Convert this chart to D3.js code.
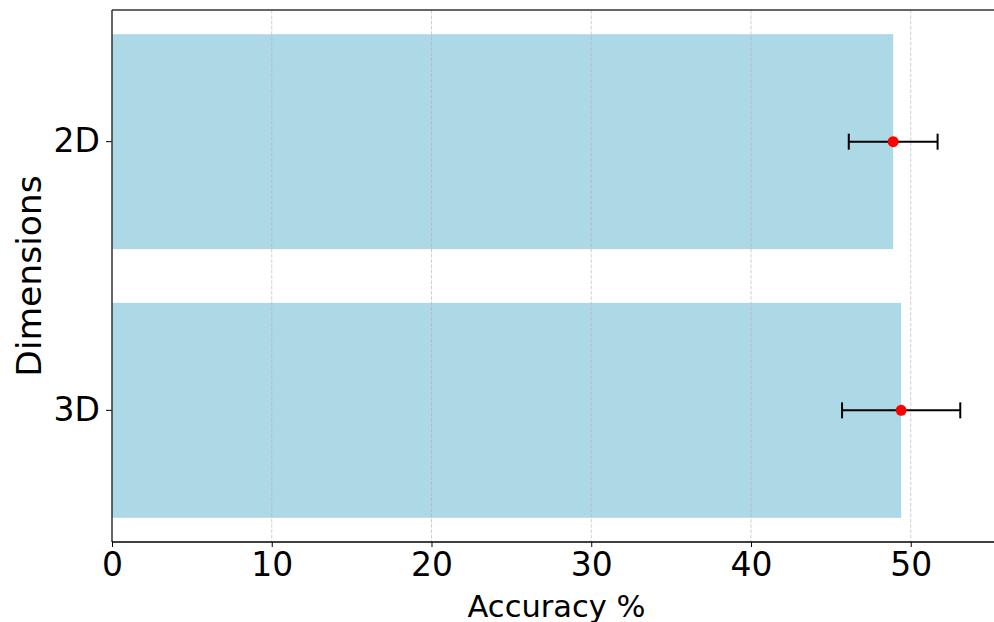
<!DOCTYPE html>
<html>
<head>
<meta charset="utf-8">
<script src="https://cdn.jsdelivr.net/npm/d3@7"></script>
<style>
  html, body { margin: 0; padding: 0; background: #fff; }
  svg { display: block; font-family: "DejaVu Sans", sans-serif; }
</style>
</head>
<body>
<svg id="chart" width="994" height="622"></svg>
<script>
// Accuracy per dimension with error bars
const categories = ["2D", "3D"];
const accuracy = [48.9, 49.4];
const errors = [2.78, 3.7];
const xTicks = [0, 10, 20, 30, 40, 50];

const W = 994, H = 622;
const m = { left: 112, top: 10, bottom: 542, right: 1005 };
const xMax = 55.9;

const svg = d3.select("#chart");

const x = d3.scaleLinear().domain([0, xMax]).range([m.left, m.right]);
const y = d3.scaleBand().domain(categories).range([m.top, m.bottom])
  .paddingInner(0.2).paddingOuter(0.09);

const rows = categories.map((c, i) => ({ cat: c, v: accuracy[i], e: errors[i] }));

// bars
svg.append("g").selectAll("rect").data(rows).join("rect")
  .attr("x", x(0))
  .attr("y", d => y(d.cat))
  .attr("width", d => x(d.v) - x(0))
  .attr("height", y.bandwidth())
  .attr("fill", "#ADD8E6");

// dashed vertical grid
svg.append("g").selectAll("line").data(xTicks.filter(t => t > 0)).join("line")
  .attr("x1", d => x(d)).attr("x2", d => x(d))
  .attr("y1", m.top).attr("y2", m.bottom)
  .attr("stroke", "#b0b0b0").attr("stroke-opacity", 0.6)
  .attr("stroke-width", 1).attr("stroke-dasharray", "3.7,1.6");

// error bars
const cap = 8;
const eb = svg.append("g").selectAll("g").data(rows).join("g");
eb.append("line")
  .attr("x1", d => x(d.v - d.e)).attr("x2", d => x(d.v + d.e))
  .attr("y1", d => y(d.cat) + y.bandwidth() / 2).attr("y2", d => y(d.cat) + y.bandwidth() / 2)
  .attr("stroke", "#000").attr("stroke-width", 2);
eb.append("line")
  .attr("x1", d => x(d.v - d.e)).attr("x2", d => x(d.v - d.e))
  .attr("y1", d => y(d.cat) + y.bandwidth() / 2 - cap).attr("y2", d => y(d.cat) + y.bandwidth() / 2 + cap)
  .attr("stroke", "#000").attr("stroke-width", 2);
eb.append("line")
  .attr("x1", d => x(d.v + d.e)).attr("x2", d => x(d.v + d.e))
  .attr("y1", d => y(d.cat) + y.bandwidth() / 2 - cap).attr("y2", d => y(d.cat) + y.bandwidth() / 2 + cap)
  .attr("stroke", "#000").attr("stroke-width", 2);
eb.append("circle")
  .attr("cx", d => x(d.v)).attr("cy", d => y(d.cat) + y.bandwidth() / 2)
  .attr("r", 5.5).attr("fill", "#ff0000");

// x axis
const xAxis = svg.append("g").attr("transform", `translate(0,${m.bottom})`)
  .call(d3.axisBottom(x).tickValues(xTicks).tickFormat(d3.format("d")).tickSize(5).tickPadding(6));
xAxis.select(".domain").remove();
xAxis.selectAll("text").attr("font-size", 33).attr("fill", "#000").attr("font-family", "DejaVu Sans");
xAxis.selectAll("line").attr("stroke", "#000").attr("stroke-width", 1);

// y axis
const yAxis = svg.append("g").attr("transform", `translate(${m.left},0)`)
  .call(d3.axisLeft(y).tickSize(6).tickPadding(6));
yAxis.select(".domain").remove();
yAxis.selectAll("text").attr("font-size", 33).attr("fill", "#000").attr("font-family", "DejaVu Sans");
yAxis.selectAll("line").attr("stroke", "#000").attr("stroke-width", 1);

// spines
svg.append("line").attr("x1", m.left).attr("x2", m.right).attr("y1", m.top).attr("y2", m.top)
  .attr("stroke", "#333").attr("stroke-width", 1.5);
svg.append("line").attr("x1", m.left).attr("x2", m.left).attr("y1", m.top).attr("y2", m.bottom)
  .attr("stroke", "#333").attr("stroke-width", 1.5);
svg.append("line").attr("x1", m.left).attr("x2", m.right).attr("y1", m.bottom).attr("y2", m.bottom)
  .attr("stroke", "#000").attr("stroke-width", 1.5);

// axis titles
svg.append("text").attr("x", x(xMax / 2) - 2 + 0).attr("y", 617)
  .attr("text-anchor", "middle").attr("font-size", 30.5).attr("fill", "#000")
  .text("Accuracy %");
svg.append("text").attr("transform", `translate(41,${(m.top + m.bottom) / 2}) rotate(-90)`)
  .attr("text-anchor", "middle").attr("font-size", 34.5).attr("fill", "#000")
  .text("Dimensions");
</script>
</body>
</html>
